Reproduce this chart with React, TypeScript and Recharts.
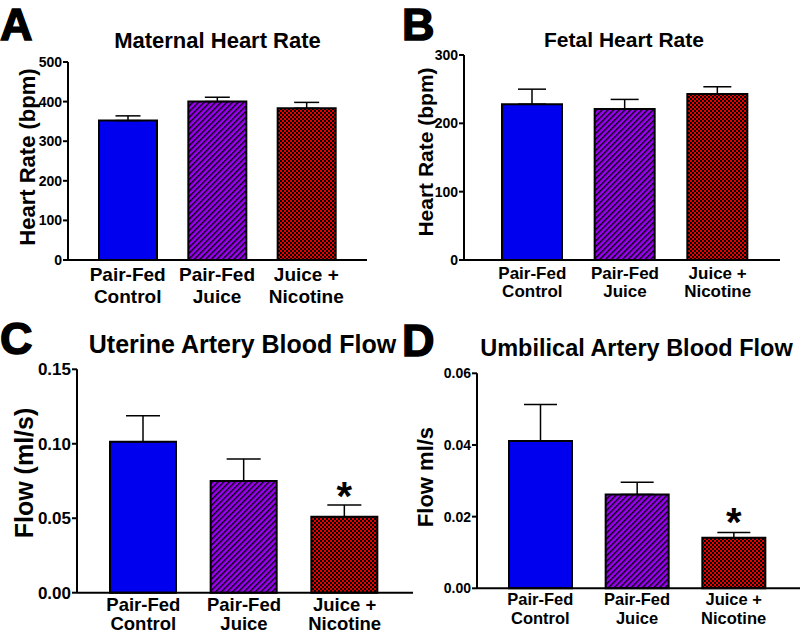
import React from 'react';
import { BarChart, Bar, XAxis, YAxis, ErrorBar, Cell, LabelList } from 'recharts';

const groups = ['Pair-Fed\nControl', 'Pair-Fed\nJuice', 'Juice +\nNicotine'];

const maternalHR = [352, 400, 383];
const maternalHRErr = [12, 11, 15];
const fetalHR = [228, 221, 243];
const fetalHRErr = [22, 14, 10.5];
const uterineFlow = [0.1014, 0.075, 0.051];
const uterineFlowErr = [0.0174, 0.0148, 0.0079];
const umbilicalFlow = [0.0411, 0.0262, 0.0141];
const umbilicalFlowErr = [0.0102, 0.0034, 0.0015];
const sigMarks = ['', '', '*'];

const maternalTicks = [0, 100, 200, 300, 400, 500];
const fetalTicks = [0, 100, 200, 300];
const uterineTicks = [0, 0.05, 0.1, 0.15];
const umbilicalTicks = [0, 0.02, 0.04, 0.06];

const FONT = '"Liberation Sans", Arial, Helvetica, sans-serif';
const fills = ['#0000ee', 'url(#purpleStripes)', 'url(#redChecks)'];

const toRows = (vals: number[], errs: number[], marks?: string[]) =>
  groups.map((g, i) => ({ group: g, value: vals[i], err: [0, errs[i]], sig: marks ? marks[i] : '' }));

const CatTick = (props: any) => {
  const { x, y, payload, fontSize, dy, lineH } = props;
  const lines = String(payload.value).split('\n');
  return (
    <text x={x} y={y} textAnchor="middle" fontFamily={FONT} fontWeight="bold" fontSize={fontSize} fill="#000">
      {lines.map((l, i) => (
        <tspan key={i} x={x} dy={i === 0 ? dy : lineH}>{l}</tspan>
      ))}
    </text>
  );
};

type PanelProps = {
  rows: any[];
  ticks: number[];
  fmt?: (v: number) => string;
  left: number;
  top: number;
  width: number;
  height: number;
  marginTop: number;
  marginRight: number;
  yWidth: number;
  xHeight: number;
  pad: { left: number; right: number };
  barSize: number;
  cap: number;
  tickFont: number;
  catFont: number;
  catDy: number;
  catLineH: number;
  starLift?: number;
};

const Panel = (p: PanelProps) => {
  const renderStar = (lp: any) => {
    if (!lp.value) return null;
    return (
      <text x={lp.x + lp.width / 2} y={lp.y - (p.starLift || 0)} textAnchor="middle"
        fontFamily={FONT} fontWeight="bold" fontSize={40} fill="#000">{lp.value}</text>
    );
  };
  return (
    <div style={{ position: 'absolute', left: p.left, top: p.top }}>
      <BarChart width={p.width} height={p.height} data={p.rows}
        margin={{ top: p.marginTop, right: p.marginRight, left: 0, bottom: 0 }}>
        <XAxis dataKey="group" interval={0} height={p.xHeight} padding={p.pad}
          axisLine={{ stroke: '#000', strokeWidth: 2 }} tickLine={false} tickSize={0} tickMargin={0}
          tick={(tp: any) => <CatTick {...tp} fontSize={p.catFont} dy={p.catDy} lineH={p.catLineH} />} />
        <YAxis width={p.yWidth} domain={[p.ticks[0], p.ticks[p.ticks.length - 1]]} ticks={p.ticks}
          tickFormatter={p.fmt} axisLine={{ stroke: '#000', strokeWidth: 2 }}
          tickLine={{ stroke: '#000', strokeWidth: 2 }} tickSize={5} tickMargin={1}
          tick={{ fill: '#000', fontSize: p.tickFont, fontWeight: 'bold', fontFamily: FONT }} />
        <Bar dataKey="value" barSize={p.barSize} stroke="#000" strokeWidth={2} isAnimationActive={false}>
          {p.rows.map((_, i) => <Cell key={i} fill={fills[i]} />)}
          <ErrorBar dataKey="err" direction="y" width={p.cap} stroke="#000" strokeWidth={1.5} />
          <LabelList dataKey="sig" content={renderStar} />
        </Bar>
      </BarChart>
    </div>
  );
};

const fmt2 = (v: number) => v.toFixed(2);

export default function App() {
  return (
    <div style={{ position: 'absolute', left: 0, top: 0, width: 800, height: 633, background: '#fff', overflow: 'hidden' }}>
      <svg width={0} height={0} style={{ position: 'absolute' }}>
        <defs>
          <pattern id="purpleStripes" width={4} height={4} patternUnits="userSpaceOnUse" patternTransform="rotate(45)">
            <rect width={4} height={4} fill="#9c00f4" />
            <rect width={1.4} height={4} fill="#000" />
          </pattern>
          <pattern id="redChecks" width={4} height={4} patternUnits="userSpaceOnUse">
            <rect width={4} height={4} fill="#e80000" />
            <rect width={2} height={2} fill="#000" />
            <rect x={2} y={2} width={2} height={2} fill="#000" />
          </pattern>
        </defs>
      </svg>

      <Panel rows={toRows(maternalHR, maternalHRErr)} ticks={maternalTicks}
        left={0} top={0} width={400} height={310} marginTop={62} marginRight={33}
        yWidth={68} xHeight={50} pad={{ left: 15, right: 16 }} barSize={58} cap={12.5}
        tickFont={14} catFont={19} catDy={21} catLineH={22} />
      <Panel rows={toRows(fetalHR, fetalHRErr)} ticks={fetalTicks}
        left={400} top={0} width={400} height={310} marginTop={55} marginRight={20}
        yWidth={64} xHeight={50} pad={{ left: 22, right: 16 }} barSize={60} cap={14}
        tickFont={14} catFont={17} catDy={19} catLineH={18} />
      <Panel rows={toRows(uterineFlow, uterineFlowErr, sigMarks)} ticks={uterineTicks} fmt={fmt2}
        left={0} top={320} width={415} height={313} marginTop={49.3} marginRight={2}
        yWidth={77} xHeight={40.3} pad={{ left: 16, right: 18 }} barSize={66} cap={17}
        tickFont={17} catFont={18.5} catDy={18} catLineH={19} starLift={7} />
      <Panel rows={toRows(umbilicalFlow, umbilicalFlowErr, sigMarks)} ticks={umbilicalTicks} fmt={fmt2}
        left={400} top={320} width={400} height={313} marginTop={53.3} marginRight={0}
        yWidth={77} xHeight={44.7} pad={{ left: 15, right: 18 }} barSize={63} cap={16.5}
        tickFont={14} catFont={16.5} catDy={16.7} catLineH={19} starLift={2} />

      <svg width={800} height={633} style={{ position: 'absolute', left: 0, top: 0, pointerEvents: 'none' }}
        fontFamily={FONT} fontWeight="bold" fill="#000">
        <text x={0} y={40} fontSize={45} stroke="#000" strokeWidth={1.5}>A</text>
        <text x={402} y={40} fontSize={45} stroke="#000" strokeWidth={1.5}>B</text>
        <text x={0} y={354} fontSize={45} stroke="#000" strokeWidth={1.5}>C</text>
        <text x={402} y={356} fontSize={45} stroke="#000" strokeWidth={1.5}>D</text>

        <text x={217.5} y={48} fontSize={22} textAnchor="middle">Maternal Heart Rate</text>
        <text x={624} y={47} fontSize={21} textAnchor="middle">Fetal Heart Rate</text>
        <text x={242.5} y={353} fontSize={25} textAnchor="middle">Uterine Artery Blood Flow</text>
        <text x={636.5} y={356} fontSize={23.5} textAnchor="middle">Umbilical Artery Blood Flow</text>

        <text x={35} y={157} fontSize={22} textAnchor="middle" transform="rotate(-90 35 157)">Heart Rate (bpm)</text>
        <text x={433} y={152} fontSize={21} textAnchor="middle" transform="rotate(-90 433 152)">Heart Rate (bpm)</text>
        <text x={33} y={473} fontSize={25} textAnchor="middle" transform="rotate(-90 33 473)">Flow (ml/s)</text>
        <text x={433} y={477} fontSize={22} textAnchor="middle" transform="rotate(-90 433 477)">Flow ml/s</text>
      </svg>
    </div>
  );
}
